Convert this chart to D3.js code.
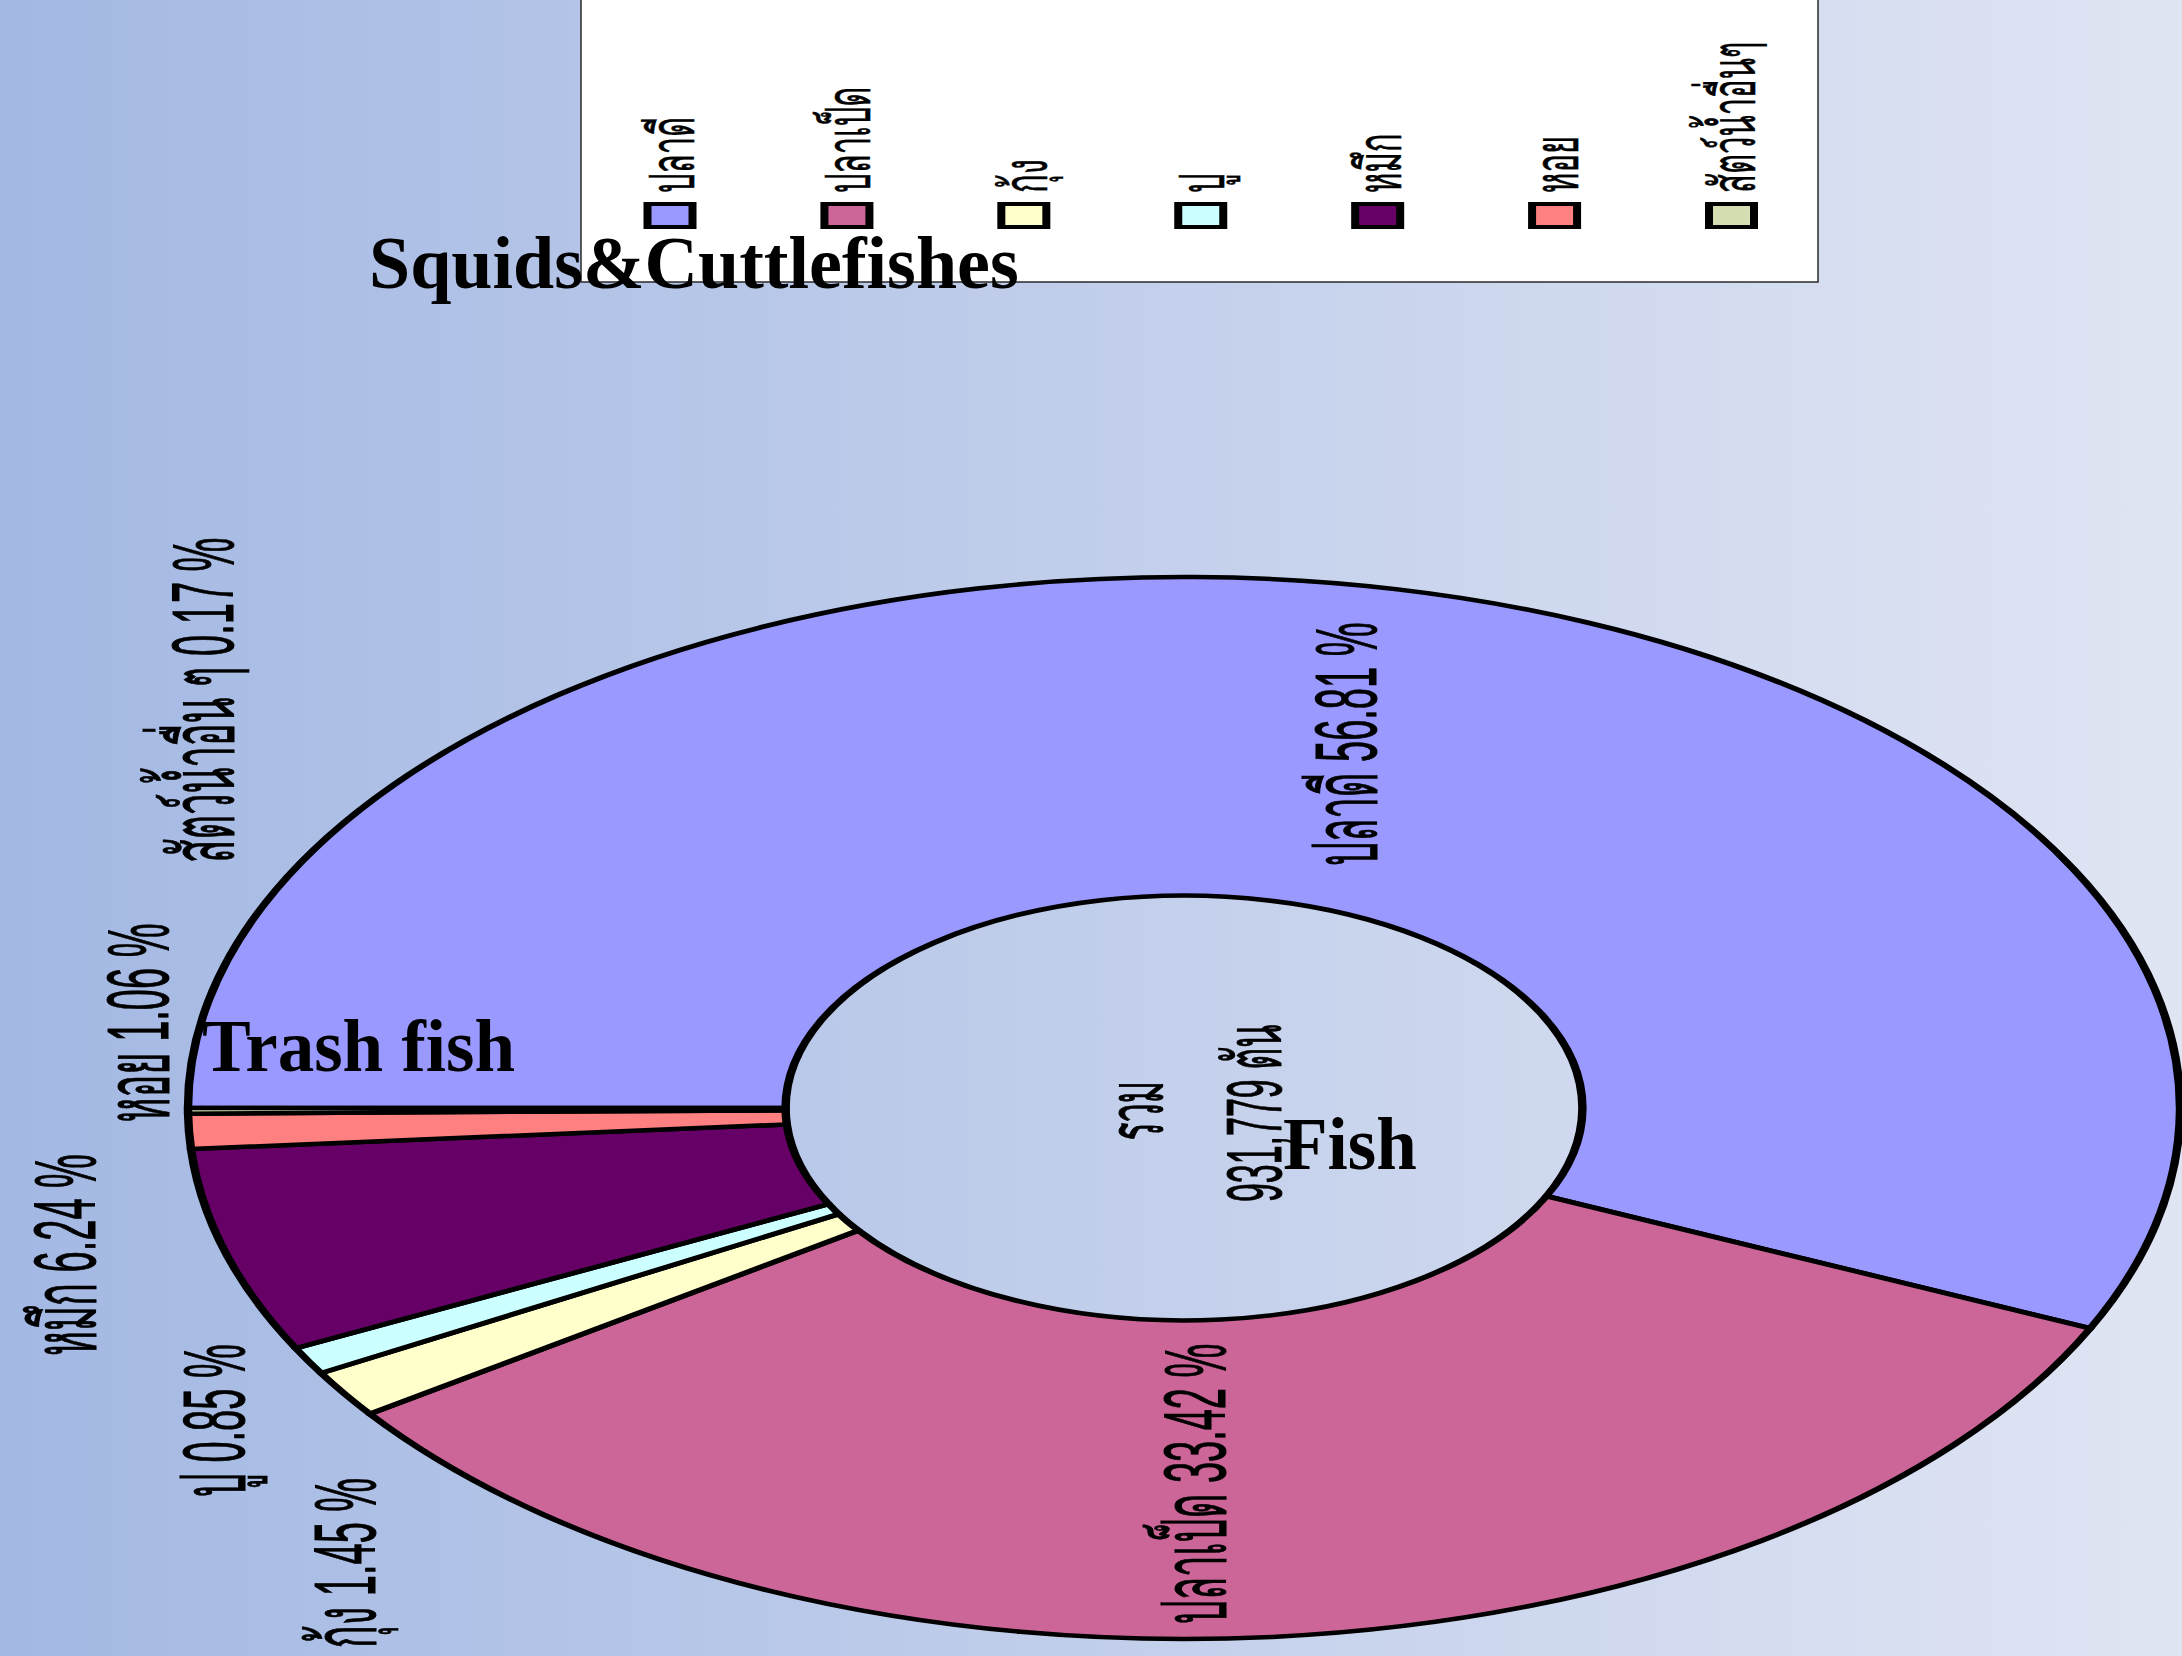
<!DOCTYPE html>
<html>
<head>
<meta charset="utf-8">
<script src="https://cdn.jsdelivr.net/npm/d3@7"></script>
<style>
  html, body { margin: 0; padding: 0; background: #ffffff; }
  svg { display: block; }
</style>
</head>
<body>
<svg id="chart" width="2182" height="1656"></svg>
<script>
// ---- data ----
const categories = ["ปลาดี", "ปลาเป็ด", "กุ้ง", "ปู", "หมึก", "หอย", "สัตว์น้ำอื่นๆ"];
const labelNames = ["ปลาดี", "ปลาเป็ด", "กุ้ง", "ปู", "หมึก", "หอย", "สัตว์น้ำอื่น ๆ"];
const percents = [56.81, 33.42, 1.45, 0.85, 6.24, 1.06, 0.17];
const totalTons = 931779;
const totalLabel = "รวม";
const unitLabel = "ตัน";
const annotations = ["Squids&Cuttlefishes", "Trash fish", "Fish"];

// ---- styling / layout ----
const colors = ["#9999ff", "#cc6699", "#ffffcc", "#ccffff", "#660066", "#ff8080", "#d3dfb3"];
const W = 2182, H = 1656;
const cx = 1184, cy = 1108, rx = 996, ry = 531;
const SX = rx / ry;              // horizontal stretch of the whole chart image
const innerFrac = 0.4;
// label anchors in unit-ellipse space
const labelPos = [[0.162, -0.685], [0.011, 0.708], [-0.843, 0.857], [-0.974, 0.589],
                  [-1.124, 0.277], [-1.051, -0.160], [-0.985, -0.768]];
const thaiFont = "'Liberation Sans', Loma, Tahoma, 'Noto Sans Thai Looped', 'Noto Sans Thai', Arial, sans-serif";
const labelSize = 38, labelSX = 2.3;
const legendSize = 31, legendSX = 2.0;
const annSizes = [74, 73, 73];

const svg = d3.select("#chart");

// background gradient
const defs = svg.append("defs");
const grad = defs.append("linearGradient").attr("id", "bg").attr("x1", "0").attr("x2", "1").attr("y1", "0").attr("y2", "0");
grad.append("stop").attr("offset", "0").attr("stop-color", "#a3b8e3");
grad.append("stop").attr("offset", "1").attr("stop-color", "#e0e5f3");
svg.append("rect").attr("width", W).attr("height", H).attr("fill", "url(#bg)");

// scales for the ellipse space
const ux = d3.scaleLinear().domain([-1, 1]).range([cx - rx, cx + rx]);
const uy = d3.scaleLinear().domain([-1, 1]).range([cy - ry, cy + ry]);

// ---- pie ----
const pie = d3.pie().sort(null).value(d => d).startAngle(-Math.PI / 2).endAngle(1.5 * Math.PI);
const arcs = pie(percents);
const arc = d3.arc().innerRadius(ry * innerFrac).outerRadius(ry);

const gPie = svg.append("g").attr("transform", `translate(${ux(0)},${uy(0)}) scale(${SX},1)`);
gPie.selectAll("path.slice").data(arcs).join("path")
  .attr("class", "slice")
  .attr("d", arc)
  .attr("fill", (d, i) => colors[i])
  .attr("stroke", "#000")
  .attr("stroke-width", 4.5)
  .attr("stroke-linejoin", "round");

// ---- center total ----
function rotText(sel, x, y, size, sx) {
  return sel.attr("transform", `translate(${x},${y}) scale(${sx},1) rotate(-90)`)
    .attr("font-size", size).attr("font-family", thaiFont).attr("fill", "#000")
    .attr("stroke", "#000").attr("stroke-width", 0.45);
}
rotText(svg.append("text"), ux(-0.048), uy(0.005), 34, labelSX)
  .attr("text-anchor", "middle").attr("dominant-baseline", "central").text(totalLabel);
rotText(svg.append("text"), ux(0.07), uy(0.01), 34, labelSX)
  .attr("text-anchor", "middle").attr("dominant-baseline", "central")
  .text(d3.format(",")(totalTons) + " " + unitLabel);

// ---- data labels ----
svg.selectAll("text.dlabel").data(arcs).join("text")
  .attr("class", "dlabel")
  .each(function (d, i) {
    rotText(d3.select(this), ux(labelPos[i][0]), uy(labelPos[i][1]), labelSize, labelSX);
  })
  .attr("text-anchor", "middle").attr("dominant-baseline", "central")
  .text((d, i) => `${labelNames[i]} ${percents[i].toFixed(2)} %`);

// ---- legend ----
svg.append("rect").attr("x", 581).attr("y", -10).attr("width", 1237).attr("height", 292)
  .attr("fill", "#ffffff").attr("stroke", "#2a2a2a").attr("stroke-width", 1.5);
const lx = d3.scalePoint().domain(categories).range([669.5, 1731]);
const gLeg = svg.append("g");
const items = gLeg.selectAll("g.item").data(categories).join("g").attr("class", "item");
items.append("rect").attr("x", d => lx(d) - 26).attr("y", 202).attr("width", 53).attr("height", 27).attr("fill", "#000");
items.append("rect").attr("x", d => lx(d) - 18).attr("y", 206).attr("width", 37).attr("height", 19)
  .attr("fill", (d, i) => colors[i]);
items.append("text").each(function (d) {
    rotText(d3.select(this), lx(d) + 24, 193, legendSize, legendSX).attr("stroke-width", 0.3);
  })
  .attr("text-anchor", "start")
  .text(d => d);

// ---- annotations ----
const annPos = [[369, 288], [202, 1071], [1283, 1169]];
svg.selectAll("text.ann").data(annotations).join("text")
  .attr("class", "ann")
  .attr("x", (d, i) => annPos[i][0]).attr("y", (d, i) => annPos[i][1])
  .attr("font-family", "'Liberation Serif', 'Times New Roman', serif")
  .attr("font-weight", "bold").attr("font-size", (d, i) => annSizes[i]).attr("fill", "#000")
  .text(d => d);
</script>
</body>
</html>
